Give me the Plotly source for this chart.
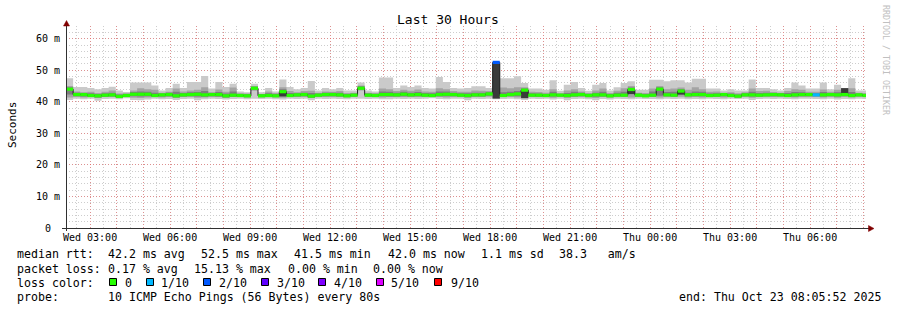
import plotly.graph_objects as go
import pandas as pd

# ---------------- data ----------------
bin_start = "2025-10-22 02:05:52"
bin_minutes = 16
range_start = "2025-10-22 02:05:52"
range_end = "2025-10-23 08:05:52"

median_ms = [
    44.0, 42.3, 42.3, 42.0, 41.9, 42.1, 42.2, 41.7, 42.0, 42.4,
    42.4, 42.4, 42.0, 42.2, 42.3, 41.9, 42.2, 42.3, 42.4, 42.2,
    42.3, 42.3, 41.9, 42.1, 42.0, 41.9, 44.3, 41.9, 42.0, 41.9,
    43.2, 42.0, 42.2, 42.3, 41.8, 42.1, 42.3, 42.3, 42.2, 41.9,
    42.1, 44.3, 42.1, 42.0, 42.3, 42.3, 42.2, 42.4, 42.2, 42.3,
    42.1, 42.0, 42.3, 42.4, 42.3, 42.1, 42.0, 42.2, 42.2, 42.5,
    52.5, 42.0, 42.3, 42.5, 43.7, 42.1, 42.1, 42.0, 42.2, 42.1,
    42.0, 42.2, 42.3, 42.0, 42.2, 42.2, 41.9, 42.1, 42.1, 43.9,
    42.1, 41.9, 42.1, 44.0, 42.2, 42.1, 43.4, 42.2, 42.3, 42.3,
    42.0, 42.1, 42.3, 42.0, 41.8, 42.2, 42.2, 42.1, 42.2, 42.3,
    42.2, 42.0, 42.2, 42.3, 42.3, 42.2, 42.2, 42.3, 42.2, 42.3,
    42.0, 42.2, 42.0,
]

# outer smoke (fastest / slowest ping)
smoke_lo = [
    40.6, 41.0, 40.8, 41.0, 40.3, 40.9, 41.0, 40.8, 41.1, 40.6,
    40.5, 40.7, 41.0, 40.8, 40.9, 40.6, 40.9, 41.0, 40.5, 40.8,
    41.0, 40.9, 40.7, 40.9, 41.0, 40.8, 41.0, 40.9, 41.0, 40.8,
    40.7, 41.0, 40.9, 41.0, 40.5, 41.0, 40.9, 41.0, 40.9, 40.8,
    41.0, 41.0, 40.9, 41.0, 40.8, 40.8, 41.0, 40.9, 41.0, 40.9,
    41.0, 41.1, 40.9, 40.8, 41.0, 41.0, 40.5, 41.0, 40.9, 41.0,
    40.8, 40.9, 41.0, 40.8, 40.6, 41.0, 40.9, 41.0, 40.7, 41.0,
    40.5, 40.9, 41.0, 40.8, 40.5, 40.9, 40.7, 41.0, 40.9, 40.8,
    41.0, 40.9, 40.9, 40.8, 41.0, 40.9, 41.0, 40.8, 40.9, 40.8,
    41.0, 40.9, 40.8, 41.0, 40.9, 41.0, 40.6, 40.9, 41.0, 40.9,
    41.0, 40.9, 40.8, 41.0, 41.0, 40.9, 40.8, 41.0, 40.7, 40.9,
    40.8, 41.0, 40.9,
]
smoke_hi = [
    47.5, 44.7, 44.7, 44.4, 44.0, 44.4, 44.8, 43.6, 43.1, 46.1,
    46.1, 46.1, 45.2, 43.6, 44.4, 45.7, 44.4, 46.3, 46.3, 48.2,
    44.2, 46.3, 44.7, 45.7, 43.3, 43.0, 45.7, 43.0, 44.4, 43.3,
    47.1, 44.7, 44.0, 44.4, 46.6, 43.6, 44.4, 44.0, 44.4, 43.6,
    43.6, 46.1, 43.6, 43.3, 47.7, 47.7, 44.4, 45.2, 44.7, 45.2,
    44.4, 44.2, 47.9, 46.3, 44.4, 44.2, 44.4, 44.9, 44.9, 44.4,
    52.5, 47.5, 47.5, 48.1, 46.0, 44.2, 44.2, 43.8, 46.8, 43.5,
    45.4, 46.3, 44.4, 43.5, 45.4, 46.0, 43.6, 44.6, 46.0, 46.5,
    43.8, 43.8, 47.0, 47.0, 46.5, 46.8, 46.8, 46.1, 47.3, 47.3,
    44.2, 44.2, 43.6, 44.0, 43.6, 43.6, 47.1, 44.4, 44.4, 44.0,
    43.6, 44.4, 46.1, 45.2, 44.2, 44.2, 46.1, 44.0, 45.4, 44.4,
    47.5, 43.6, 43.6,
]

# second smoke band (2nd fastest / 2nd slowest)
mid_lo = [
    41.4, 41.6, 41.4, 41.5, 41.2, 41.5, 41.6, 41.3, 41.6, 41.3,
    41.2, 41.4, 41.5, 41.4, 41.5, 41.3, 41.5, 41.6, 41.3, 41.4,
    41.6, 41.5, 41.3, 41.5, 41.5, 41.3, 43.5, 41.4, 41.5, 41.4,
    41.3, 41.6, 41.5, 41.6, 41.2, 41.6, 41.5, 41.6, 41.5, 41.4,
    41.6, 43.6, 41.5, 41.6, 41.4, 41.5, 41.6, 41.5, 41.6, 41.5,
    41.6, 41.6, 41.5, 41.4, 41.6, 41.6, 41.2, 41.6, 41.5, 41.6,
    40.9, 41.5, 41.6, 41.4, 41.0, 41.6, 41.5, 41.6, 41.3, 41.6,
    41.2, 41.5, 41.6, 41.4, 41.2, 41.5, 41.3, 41.6, 41.5, 41.4,
    41.6, 41.5, 41.5, 41.4, 41.6, 41.5, 41.6, 41.4, 41.5, 41.4,
    41.6, 41.5, 41.4, 41.6, 41.4, 41.6, 41.3, 41.5, 41.6, 41.5,
    41.6, 41.5, 41.4, 41.6, 41.6, 41.5, 41.4, 41.6, 41.3, 41.5,
    41.4, 41.6, 41.5,
]
mid_hi = [
    45.0, 43.3, 43.0, 43.2, 42.8, 43.2, 43.6, 42.6, 42.7, 43.6,
    44.3, 44.0, 43.8, 42.9, 43.2, 44.2, 43.3, 43.6, 43.8, 44.6,
    43.0, 43.9, 43.2, 44.5, 42.7, 42.6, 45.0, 42.5, 43.3, 42.8,
    44.6, 43.4, 43.0, 43.4, 43.5, 42.9, 43.3, 43.2, 43.4, 42.8,
    42.9, 45.2, 42.9, 42.8, 44.2, 44.0, 43.4, 43.8, 43.5, 43.9,
    43.3, 43.2, 44.3, 44.0, 43.4, 43.2, 43.2, 43.6, 43.5, 43.4,
    52.4, 44.5, 44.3, 44.6, 44.6, 43.2, 43.1, 42.9, 44.0, 42.8,
    43.6, 44.0, 43.3, 42.8, 43.6, 44.2, 42.8, 43.5, 44.3, 45.0,
    42.9, 42.8, 44.2, 45.0, 44.0, 44.2, 44.5, 43.8, 44.6, 44.0,
    43.2, 43.3, 42.9, 43.0, 42.7, 43.0, 44.2, 43.4, 43.5, 43.1,
    42.9, 43.4, 44.0, 43.8, 43.2, 43.2, 43.9, 43.2, 43.8, 44.4,
    44.3, 42.9, 42.8,
]

# third smoke band
inner_lo = [
    42.3, 41.8, 41.7, 41.6, 41.4, 41.6, 41.7, 41.3, 41.7, 41.8,
    41.7, 41.8, 41.6, 41.7, 41.8, 41.4, 41.7, 41.8, 41.7, 41.6,
    41.8, 41.7, 41.4, 41.6, 41.6, 41.5, 43.9, 41.5, 41.6, 41.5,
    41.6, 41.6, 41.7, 41.8, 41.3, 41.7, 41.8, 41.8, 41.7, 41.5,
    41.7, 43.9, 41.7, 41.6, 41.8, 41.7, 41.7, 41.8, 41.7, 41.8,
    41.7, 41.6, 41.8, 41.8, 41.8, 41.7, 41.5, 41.7, 41.7, 41.9,
    41.0, 41.6, 41.8, 41.8, 41.2, 41.7, 41.6, 41.6, 41.7, 41.7,
    41.5, 41.7, 41.8, 41.6, 41.6, 41.7, 41.5, 41.7, 41.7, 42.4,
    41.7, 41.5, 41.7, 41.9, 41.8, 41.7, 42.2, 41.8, 41.8, 41.8,
    41.6, 41.7, 41.8, 41.6, 41.4, 41.8, 41.7, 41.7, 41.8, 41.8,
    41.8, 41.6, 41.7, 41.8, 41.8, 41.8, 41.7, 41.8, 41.7, 42.0,
    41.6, 41.8, 41.6,
]
inner_hi = [
    44.6, 42.9, 42.8, 42.7, 42.5, 42.7, 42.9, 42.3, 42.5, 43.1,
    43.3, 43.2, 42.9, 42.6, 42.9, 43.2, 42.8, 43.0, 43.1, 43.4,
    42.8, 43.1, 42.6, 43.3, 42.5, 42.4, 44.8, 42.4, 42.7, 42.5,
    44.0, 42.8, 42.7, 42.9, 42.8, 42.6, 42.9, 42.9, 42.9, 42.5,
    42.6, 44.9, 42.6, 42.5, 43.3, 43.2, 42.9, 43.2, 42.9, 43.1,
    42.8, 42.7, 43.3, 43.3, 42.9, 42.7, 42.7, 42.9, 42.9, 43.0,
    52.3, 43.0, 43.2, 43.4, 44.2, 42.7, 42.6, 42.5, 43.2, 42.5,
    42.8, 43.2, 42.9, 42.5, 42.9, 43.2, 42.5, 42.9, 43.2, 44.5,
    42.6, 42.5, 43.3, 44.6, 43.1, 43.2, 44.0, 42.9, 43.3, 43.2,
    42.6, 42.7, 42.7, 42.6, 42.3, 42.7, 43.2, 42.8, 42.9, 42.8,
    42.7, 42.8, 43.1, 43.0, 42.8, 42.8, 43.1, 42.8, 43.0, 44.4,
    43.1, 42.6, 42.5,
]

# dense core of the smoke (only where it is visible)
core_bins = [30, 60, 64, 79, 86, 109]
core_lo = [41.8, 41.1, 41.2, 42.5, 42.3, 42.2]
core_hi = [43.0, 52.2, 43.4, 43.8, 43.3, 44.3]

# bins with packet loss (in tenths)
loss_bins = [60, 105]
loss_tenths = [2, 1]

legend_labels = ["0", "1/10", "2/10", "3/10", "4/10", "5/10", "9/10"]
legend_tenths = [0, 1, 2, 3, 4, 5, 9]
legend_colors = ["#26ff00", "#00b8ff", "#0059ff", "#5e00ff", "#7e00ff", "#dd00ff", "#ff0000"]

x_tick_labels = ["Wed 03:00", "Wed 06:00", "Wed 09:00", "Wed 12:00", "Wed 15:00",
                 "Wed 18:00", "Wed 21:00", "Thu 00:00", "Thu 03:00", "Thu 06:00"]
x_tick_first = "2025-10-22 03:00"
y_tick_values = [0, 10, 20, 30, 40, 50, 60]
y_tick_labels = ["0", "10 m", "20 m", "30 m", "40 m", "50 m", "60 m"]

stats_rtt = ["median rtt:", "42.2 ms avg", "52.5 ms max", "41.5 ms min", "42.0 ms now", "1.1 ms sd", "38.3   am/s"]
stats_loss = ["packet loss:", "0.17 % avg", "15.13 % max", "0.00 % min", "0.00 % now"]
probe_text = ["probe:", "10 ICMP Echo Pings (56 Bytes) every 80s"]
end_text = "end: Thu Oct 23 08:05:52 2025"
title_text = "Last 30 Hours"
y_title = "Seconds"
watermark = "RRDTOOL / TOBI OETIKER"

# ---------------- geometry helpers ----------------
W, H = 897, 310
L, R, T, B = 66, 31, 26, 82
PW, PH = W - L - R, H - T - B
Y_MAX = 64.03
MONO = "DejaVu Sans Mono"


def px_x(p):
    return (p - L) / PW


def px_y(p):
    return (H - B - p) / PH


n = len(median_ms)
for arr in (smoke_lo, smoke_hi, mid_lo, mid_hi, inner_lo, inner_hi):
    assert len(arr) == n, len(arr)

edges = pd.date_range(bin_start, periods=n + 1, freq=f"{bin_minutes}min")
ext = lambda a: list(a) + [a[-1]]

fig = go.Figure()


def band(lo, hi, color):
    fig.add_trace(go.Scatter(x=edges, y=ext(lo), mode="lines", line=dict(width=0, shape="hv"),
                             hoverinfo="skip", showlegend=False))
    fig.add_trace(go.Scatter(x=edges, y=ext(hi), mode="lines", line=dict(width=0, shape="hv"),
                             fill="tonexty", fillcolor=color, hoverinfo="skip", showlegend=False))


band(smoke_lo, smoke_hi, "#cacaca")
band(mid_lo, mid_hi, "#a4a4a4")
band(inner_lo, inner_hi, "#7e7e7e")

# core smoke blocks
cx, cy = [], []
for b, lo, hi in zip(core_bins, core_lo, core_hi):
    cx += [edges[b], edges[b], edges[b + 1], edges[b + 1], edges[b], None]
    cy += [lo, hi, hi, lo, lo, None]
fig.add_trace(go.Scatter(x=cx, y=cy, mode="lines", line=dict(width=0), fill="toself",
                         fillcolor="#3a3a3a", hoverinfo="skip", showlegend=False))

# thin dark median line
fig.add_trace(go.Scatter(x=edges, y=ext(median_ms), mode="lines",
                         line=dict(width=1, color="#202020", shape="hv"),
                         hoverinfo="skip", showlegend=False))

# loss-coloured median segments
loss_of_bin = {b: t for b, t in zip(loss_bins, loss_tenths)}
for tenths, color in zip(legend_tenths, legend_colors):
    sx, sy = [], []
    for i, m in enumerate(median_ms):
        if loss_of_bin.get(i, 0) == tenths:
            sx += [edges[i], edges[i + 1], None]
            sy += [m, m, None]
    if sx:
        fig.add_trace(go.Scatter(x=sx, y=sy, mode="lines", line=dict(width=3.2, color=color),
                                 hoverinfo="skip", showlegend=False))

# ---------------- axes ----------------
label_times = pd.date_range(x_tick_first, periods=len(x_tick_labels), freq="3h")
label_map = dict(zip(label_times, x_tick_labels))
hour_vals = list(pd.date_range("2025-10-22 03:00", "2025-10-23 08:00", freq="1h"))
hour_text = [label_map.get(h, "") for h in hour_vals]

major_grid = "rgba(240,70,70,0.45)"
minor_grid = "#cdcdcd"

fig.update_xaxes(
    type="date", range=[range_start, range_end], tickmode="array",
    tickvals=hour_vals, ticktext=hour_text, showgrid=True, gridcolor=major_grid,
    griddash="1px,2px", gridwidth=1, ticks="", showline=False, zeroline=False,
    tickfont=dict(family=MONO, size=10, color="#000000"), automargin=False,
    ticklabelstandoff=2,
    minor=dict(dtick=1800000, tick0="2025-10-22 00:00", showgrid=True,
               gridcolor=minor_grid, griddash="1px,2px", gridwidth=1),
)
fig.update_yaxes(
    range=[0, Y_MAX], tickmode="array", tickvals=y_tick_values, showticklabels=False,
    showgrid=True, gridcolor=major_grid, griddash="1px,2px", gridwidth=1,
    ticks="", showline=False, zeroline=False, automargin=False,
    minor=dict(dtick=2, tick0=0, showgrid=True, gridcolor=minor_grid,
               griddash="1px,2px", gridwidth=1),
)

annotations = []
shapes = []


def text(t, x, y, size=11.6, anchor="left", color="#000000", angle=0):
    annotations.append(dict(text=t, x=px_x(x), y=px_y(y), xref="paper", yref="paper",
                            xanchor=anchor, yanchor="middle", showarrow=False,
                            textangle=angle, borderpad=0,
                            font=dict(family=MONO, size=size, color=color)))


# y tick labels (centred like rrdtool)
for v, lab in zip(y_tick_values, y_tick_labels):
    text(lab, 48, (H - B) - v / Y_MAX * PH, size=10, anchor="center")

# title, axis title, watermark
text(title_text, 448, 20, size=13, anchor="center")
text(y_title, 12, 125, size=11, anchor="center", angle=-90)
text(watermark, 886, 60, size=8.3, anchor="center", color="#c0c0c0", angle=90)

# legend / stats rows
rtt_x = [16, 107, 200, 293, 387, 480, 558]
for t, x in zip(stats_rtt, rtt_x):
    text(t, x, 254.5)
loss_x = [16, 107, 193, 287, 372]
for t, x in zip(stats_loss, loss_x):
    text(t, x, 268.5)
text("loss color:", 16, 282.5)
box_x = [109, 146, 203, 261, 318, 376, 434]
lab_x = [124, 160, 218, 276, 333, 390, 450]
for lab, col, bx, lx in zip(legend_labels, legend_colors, box_x, lab_x):
    shapes.append(dict(type="rect", xref="paper", yref="paper",
                       x0=px_x(bx + 0.5), x1=px_x(bx + 7.5), y0=px_y(278.5), y1=px_y(285.5),
                       fillcolor=col, line=dict(color="#000000", width=1)))
    text(lab, lx, 282.5)
text(probe_text[0], 16, 296.5)
text(probe_text[1], 107, 296.5)
text(end_text, 678, 296.5)

# axis lines and arrows
axis_col = "#303030"
arrow_col = "#800000"
shapes.append(dict(type="line", xref="paper", yref="paper", x0=px_x(62), x1=px_x(869),
                   y0=px_y(228.5), y1=px_y(228.5), line=dict(color=axis_col, width=1)))
shapes.append(dict(type="line", xref="paper", yref="paper", x0=px_x(66.5), x1=px_x(66.5),
                   y0=px_y(231), y1=px_y(24), line=dict(color=axis_col, width=1)))
shapes.append(dict(type="path", xref="paper", yref="paper",
                   path=f"M {px_x(66.5)},{px_y(20.5)} L {px_x(63.5)},{px_y(26)} L {px_x(69.5)},{px_y(26)} Z",
                   fillcolor=arrow_col, line=dict(color=arrow_col, width=0.5)))
shapes.append(dict(type="path", xref="paper", yref="paper",
                   path=f"M {px_x(874)},{px_y(228.5)} L {px_x(868.5)},{px_y(225.5)} L {px_x(868.5)},{px_y(231.5)} Z",
                   fillcolor=arrow_col, line=dict(color=arrow_col, width=0.5)))

fig.update_layout(
    width=W, height=H, margin=dict(l=L, r=R, t=T, b=B, pad=0),
    paper_bgcolor="#ffffff", plot_bgcolor="#ffffff",
    showlegend=False, annotations=annotations, shapes=shapes,
    font=dict(family=MONO, color="#000000"),
)

fig.write_html("out.html")
